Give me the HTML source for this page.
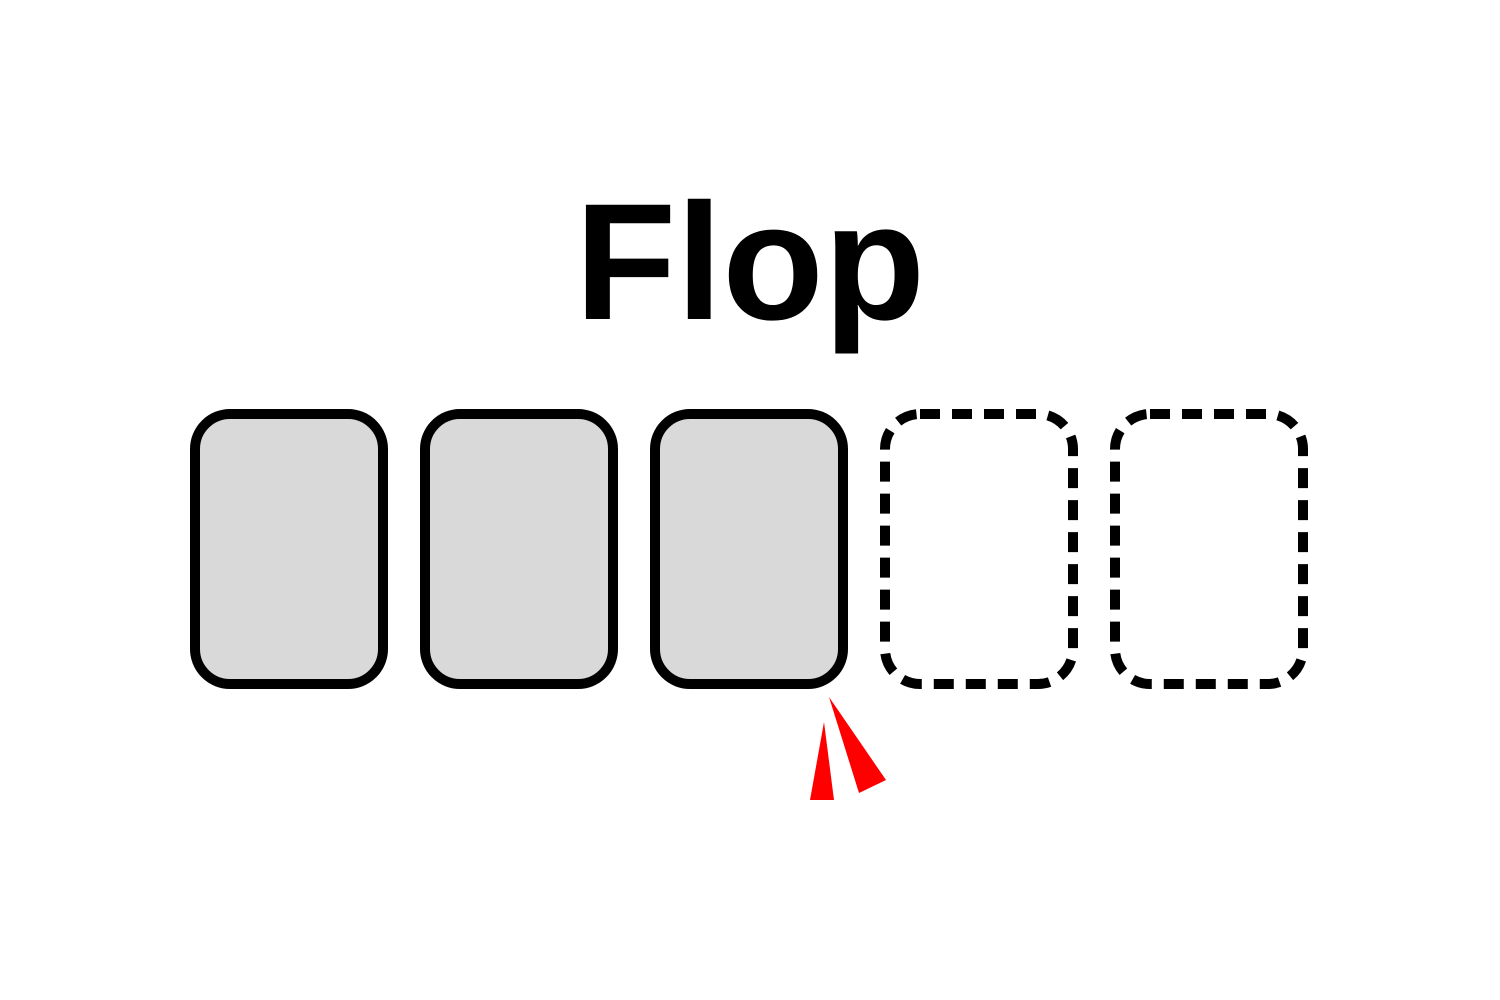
<!DOCTYPE html>
<html>
<head>
<meta charset="utf-8">
<style>
  html,body{margin:0;padding:0;background:#fff;width:1500px;height:1000px;overflow:hidden;}
  svg{display:block;}
</style>
</head>
<body>
<svg width="1500" height="1000" viewBox="0 0 1500 1000">
  <rect x="0" y="0" width="1500" height="1000" fill="#fff"/>
  <text x="750" y="319" text-anchor="middle" font-family="Liberation Sans, sans-serif" font-weight="bold" font-size="166" fill="#000">Flop</text>

  <rect x="195" y="414" width="188" height="270" rx="35" fill="#d9d9d9" stroke="#000" stroke-width="10"/>
  <rect x="425" y="414" width="188" height="270" rx="35" fill="#d9d9d9" stroke="#000" stroke-width="10"/>
  <rect x="655" y="414" width="188" height="270" rx="35" fill="#d9d9d9" stroke="#000" stroke-width="10"/>
  <rect x="885" y="414" width="188" height="270" rx="35" fill="none" stroke="#000" stroke-width="10" stroke-dasharray="20 12"/>
  <rect x="1115" y="414" width="188" height="270" rx="35" fill="none" stroke="#000" stroke-width="10" stroke-dasharray="20 12"/>

  <polygon points="824,722 810,800 834,800" fill="#ff0000"/>
  <polygon points="829,697 859,793 886,780" fill="#ff0000"/>
</svg>
</body>
</html>
